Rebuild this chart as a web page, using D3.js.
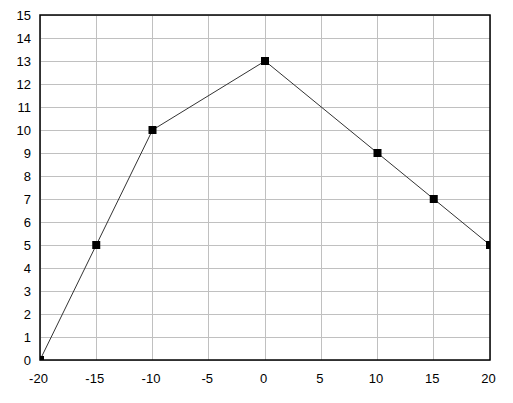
<!DOCTYPE html>
<html>
<head>
<meta charset="utf-8">
<script src="https://cdn.jsdelivr.net/npm/d3@7"></script>
<style>
  body { margin: 0; background: #fff; }
  .tick-label { font-family: 'Liberation Sans', Arial, sans-serif; font-size: 13px; fill: #000; }
</style>
</head>
<body>
<svg class="chart"></svg>
<script>
const xValues = [-20, -15, -10, 0, 10, 15, 20]
const yValues = [0, 5, 10, 13, 9, 7, 5]
const xTicks = [-20, -15, -10, -5, 0, 5, 10, 15, 20]
const yTicks = d3.range(0, 16)

const width = 513
const height = 403
const plotLeft = 40, plotRight = 490, plotTop = 15, plotBottom = 360

const svg = d3.select('.chart').attr('width', width).attr('height', height)

const x = d3.scaleLinear().domain([-20, 20]).range([plotLeft, plotRight])
const y = d3.scaleLinear().domain([0, 15]).range([plotBottom, plotTop])

svg.append('defs').append('clipPath').attr('id', 'plot-clip')
    .append('rect')
    .attr('x', plotLeft).attr('y', plotTop)
    .attr('width', plotRight - plotLeft).attr('height', plotBottom - plotTop)

// grid
svg.append('g').selectAll('line').data(xTicks).enter().append('line')
    .attr('x1', d => x(d)).attr('x2', d => x(d))
    .attr('y1', plotTop).attr('y2', plotBottom)
    .attr('stroke', '#c0c0c0').attr('stroke-width', 1)
    .attr('shape-rendering', 'crispEdges')

svg.append('g').selectAll('line').data(yTicks).enter().append('line')
    .attr('x1', plotLeft).attr('x2', plotRight)
    .attr('y1', d => y(d)).attr('y2', d => y(d))
    .attr('stroke', '#c0c0c0').attr('stroke-width', 1)
    .attr('shape-rendering', 'crispEdges')

// labels
svg.append('g').selectAll('text').data(yTicks).enter().append('text')
    .attr('class', 'tick-label')
    .attr('x', 31).attr('y', d => y(d)).attr('dy', '0.36em')
    .attr('text-anchor', 'end')
    .text(d => d)

svg.append('g').selectAll('text').data(xTicks).enter().append('text')
    .attr('class', 'tick-label')
    .attr('x', d => x(d) - 1.5).attr('y', 383)
    .attr('text-anchor', 'middle')
    .text(d => d)

// series, clipped to the plot area
const pts = xValues.map((v, i) => [v, yValues[i]])
const series = svg.append('g').attr('clip-path', 'url(#plot-clip)')

series.append('path')
    .datum(pts)
    .attr('fill', 'none').attr('stroke', '#333').attr('stroke-width', 1)
    .attr('d', d3.line().x(d => x(d[0])).y(d => y(d[1])))

series.selectAll('rect').data(pts).enter().append('rect')
    .attr('x', d => x(d[0]) - 4).attr('y', d => y(d[1]) - 4)
    .attr('width', 8).attr('height', 8)
    .attr('fill', '#000')

// frame
svg.append('rect')
    .attr('x', plotLeft).attr('y', plotTop)
    .attr('width', plotRight - plotLeft).attr('height', plotBottom - plotTop)
    .attr('fill', 'none').attr('stroke', '#000').attr('stroke-width', 1.5)
</script>
</body>
</html>
